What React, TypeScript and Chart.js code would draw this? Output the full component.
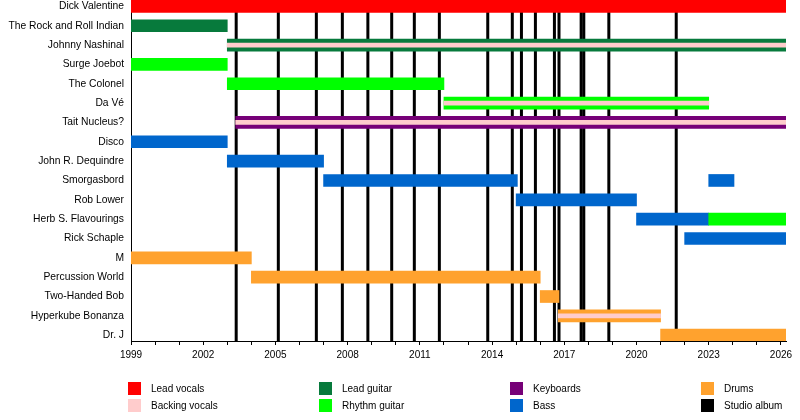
import { useEffect, useRef } from 'react'
import { Chart, registerables, type Plugin } from 'chart.js'

Chart.register(...registerables)

// ─── Data ────────────────────────────────────────────────────────────────────

const MEMBERS = [
  'Dick Valentine',
  'The Rock and Roll Indian',
  'Johnny Nashinal',
  'Surge Joebot',
  'The Colonel',
  'Da Vé',
  'Tait Nucleus?',
  'Disco',
  'John R. Dequindre',
  'Smorgasbord',
  'Rob Lower',
  'Herb S. Flavourings',
  'Rick Schaple',
  'M',
  'Percussion World',
  'Two-Handed Bob',
  'Hyperkube Bonanza',
  'Dr. J',
]

const X_MIN = 1999
const X_MAX = 2026.21
const NOW = X_MAX

type Span = [string, number, number]

const LEAD_VOCALS: Span[] = [['Dick Valentine', 1999, NOW]]

const LEAD_GUITAR: Span[] = [
  ['The Rock and Roll Indian', 1999, 2003],
  ['Johnny Nashinal', 2003, NOW],
]

const RHYTHM_GUITAR: Span[] = [
  ['Surge Joebot', 1999, 2003],
  ['The Colonel', 2003, 2012],
  ['Da Vé', 2012, 2023],
  ['Herb S. Flavourings', 2023, NOW],
]

const KEYBOARDS: Span[] = [['Tait Nucleus?', 2003.35, NOW]]

const BASS: Span[] = [
  ['Disco', 1999, 2003],
  ['John R. Dequindre', 2003, 2007],
  ['Smorgasbord', 2007, 2015.05],
  ['Smorgasbord', 2023, 2024.05],
  ['Rob Lower', 2015, 2020],
  ['Herb S. Flavourings', 2020, 2023],
  ['Rick Schaple', 2022, NOW],
]

const DRUMS: Span[] = [
  ['M', 1999, 2004],
  ['Percussion World', 2004, 2016],
  ['Two-Handed Bob', 2016, 2016.78],
  ['Hyperkube Bonanza', 2016.75, 2021],
  ['Dr. J', 2021, NOW],
]

const BACKING_VOCALS: Span[] = [
  ['Johnny Nashinal', 2003, NOW],
  ['Da Vé', 2012, 2023],
  ['Tait Nucleus?', 2003.35, NOW],
  ['Hyperkube Bonanza', 2016.75, 2021],
]

const STUDIO_ALBUMS = [
  2003.37, 2005.12, 2006.7, 2007.78, 2008.84, 2009.83, 2010.77, 2011.81,
  2013.82, 2014.84, 2015.22, 2015.8, 2016.59, 2016.78, 2017.7, 2017.81,
  2018.85, 2021.65,
]

const YEAR_TICKS: number[] = []
for (let y = 1999; y <= 2026; y++) YEAR_TICKS.push(y)

// ─── Colours ─────────────────────────────────────────────────────────────────

const C_LEAD_VOCALS = '#ff0000'
const C_BACKING     = '#ffcccc'
const C_LEAD_GUITAR = '#077a3c'
const C_RHYTHM      = '#00ff00'
const C_KEYS        = '#760077'
const C_BASS        = '#0066cc'
const C_DRUMS       = '#ffa22e'
const C_ALBUM       = '#000000'

const LEGEND = [
  [
    ['Lead vocals', C_LEAD_VOCALS],
    ['Backing vocals', C_BACKING],
  ],
  [
    ['Lead guitar', C_LEAD_GUITAR],
    ['Rhythm guitar', C_RHYTHM],
  ],
  [
    ['Keyboards', C_KEYS],
    ['Bass', C_BASS],
  ],
  [
    ['Drums', C_DRUMS],
    ['Studio album', C_ALBUM],
  ],
]

const FONT = '"Liberation Sans", Arial, sans-serif'

// ─── Helpers ─────────────────────────────────────────────────────────────────

function toPoints(spans: Span[]) {
  return spans.map(([name, from, to]) => ({ x: [from, to], y: MEMBERS.indexOf(name) }))
}

function role(label: string, spans: Span[], color: string, thickness = 12, order = 1) {
  return {
    label,
    data: toPoints(spans),
    backgroundColor: color,
    borderWidth: 0,
    borderSkipped: false,
    barThickness: thickness,
    grouped: false,
    order,
  }
}

const albumLines: Plugin = {
  id: 'albumLines',
  beforeDatasetsDraw(chart) {
    const { ctx, chartArea, scales } = chart
    ctx.save()
    ctx.beginPath()
    ctx.rect(chartArea.left, chartArea.top, chartArea.width, chartArea.height)
    ctx.clip()
    ctx.strokeStyle = C_ALBUM
    ctx.lineWidth = 3
    for (const yr of STUDIO_ALBUMS) {
      const x = scales.x.getPixelForValue(yr)
      ctx.beginPath()
      ctx.moveTo(x, chartArea.top)
      ctx.lineTo(x, chartArea.bottom)
      ctx.stroke()
    }
    ctx.restore()
  },
}

// ─── Component ───────────────────────────────────────────────────────────────

export default function App() {
  const canvasRef = useRef<HTMLCanvasElement>(null)

  useEffect(() => {
    const canvas = canvasRef.current
    if (!canvas) return

    const chart = new Chart(canvas, {
      type: 'bar',
      data: {
        datasets: [
          role('Backing vocals', BACKING_VOCALS, C_BACKING, 4, 0),
          role('Lead vocals', LEAD_VOCALS, C_LEAD_VOCALS),
          role('Lead guitar', LEAD_GUITAR, C_LEAD_GUITAR),
          role('Rhythm guitar', RHYTHM_GUITAR, C_RHYTHM),
          role('Keyboards', KEYBOARDS, C_KEYS),
          role('Bass', BASS, C_BASS),
          role('Drums', DRUMS, C_DRUMS),
        ] as any,
      },
      options: {
        indexAxis: 'y',
        animation: false,
        responsive: false,
        layout: { padding: { left: 0, right: 14, top: 0, bottom: 0 } },
        plugins: { legend: { display: false }, tooltip: { enabled: false } },
        scales: {
          x: {
            type: 'linear',
            min: X_MIN,
            max: X_MAX,
            afterBuildTicks: (s: any) => { s.ticks = YEAR_TICKS.map((value) => ({ value })) },
            afterFit: (s: any) => { s.height = 79 },
            ticks: {
              autoSkip: false,
              maxRotation: 0,
              padding: 4,
              color: '#000',
              font: { family: FONT, size: 10 },
              callback: (v: any) => ((v - X_MIN) % 3 === 0 ? String(v) : ''),
            },
            grid: { display: true, drawOnChartArea: false, drawTicks: true, tickLength: 4, color: '#000' },
            border: { display: true, color: '#000', width: 1 },
          },
          y: {
            type: 'linear',
            reverse: true,
            offset: false,
            min: -0.33,
            max: 17.3,
            afterBuildTicks: (s: any) => { s.ticks = MEMBERS.map((_, value) => ({ value })) },
            afterFit: (s: any) => {
              s.width = 131
              s.paddingTop = 0
              s.paddingBottom = 0
            },
            ticks: {
              autoSkip: false,
              padding: 7,
              color: '#000',
              font: { family: FONT, size: 10.3 },
              callback: (v: any) => MEMBERS[v] ?? '',
            },
            grid: { display: false, drawTicks: false, offset: false },
            border: { display: true, color: '#000', width: 1 },
          },
        },
      },
      plugins: [albumLines],
    })

    return () => chart.destroy()
  }, [])

  return (
    <div style={{ position: 'fixed', left: 0, top: 0, width: 800, height: 420, background: '#fff', fontFamily: FONT }}>
      <canvas ref={canvasRef} width={800} height={420} style={{ display: 'block', width: 800, height: 420 }} />
      {LEGEND.map((col, ci) =>
        col.map(([label, color], ri) => (
          <div
            key={label}
            style={{
              position: 'absolute',
              left: 128 + ci * 191,
              top: 382 + ri * 17,
              height: 13,
              display: 'flex',
              alignItems: 'center',
              fontSize: 10,
              color: '#000',
              whiteSpace: 'nowrap',
            }}
          >
            <span style={{ width: 13, height: 13, background: color, display: 'inline-block', marginRight: 10 }} />
            {label}
          </div>
        )),
      )}
    </div>
  )
}
